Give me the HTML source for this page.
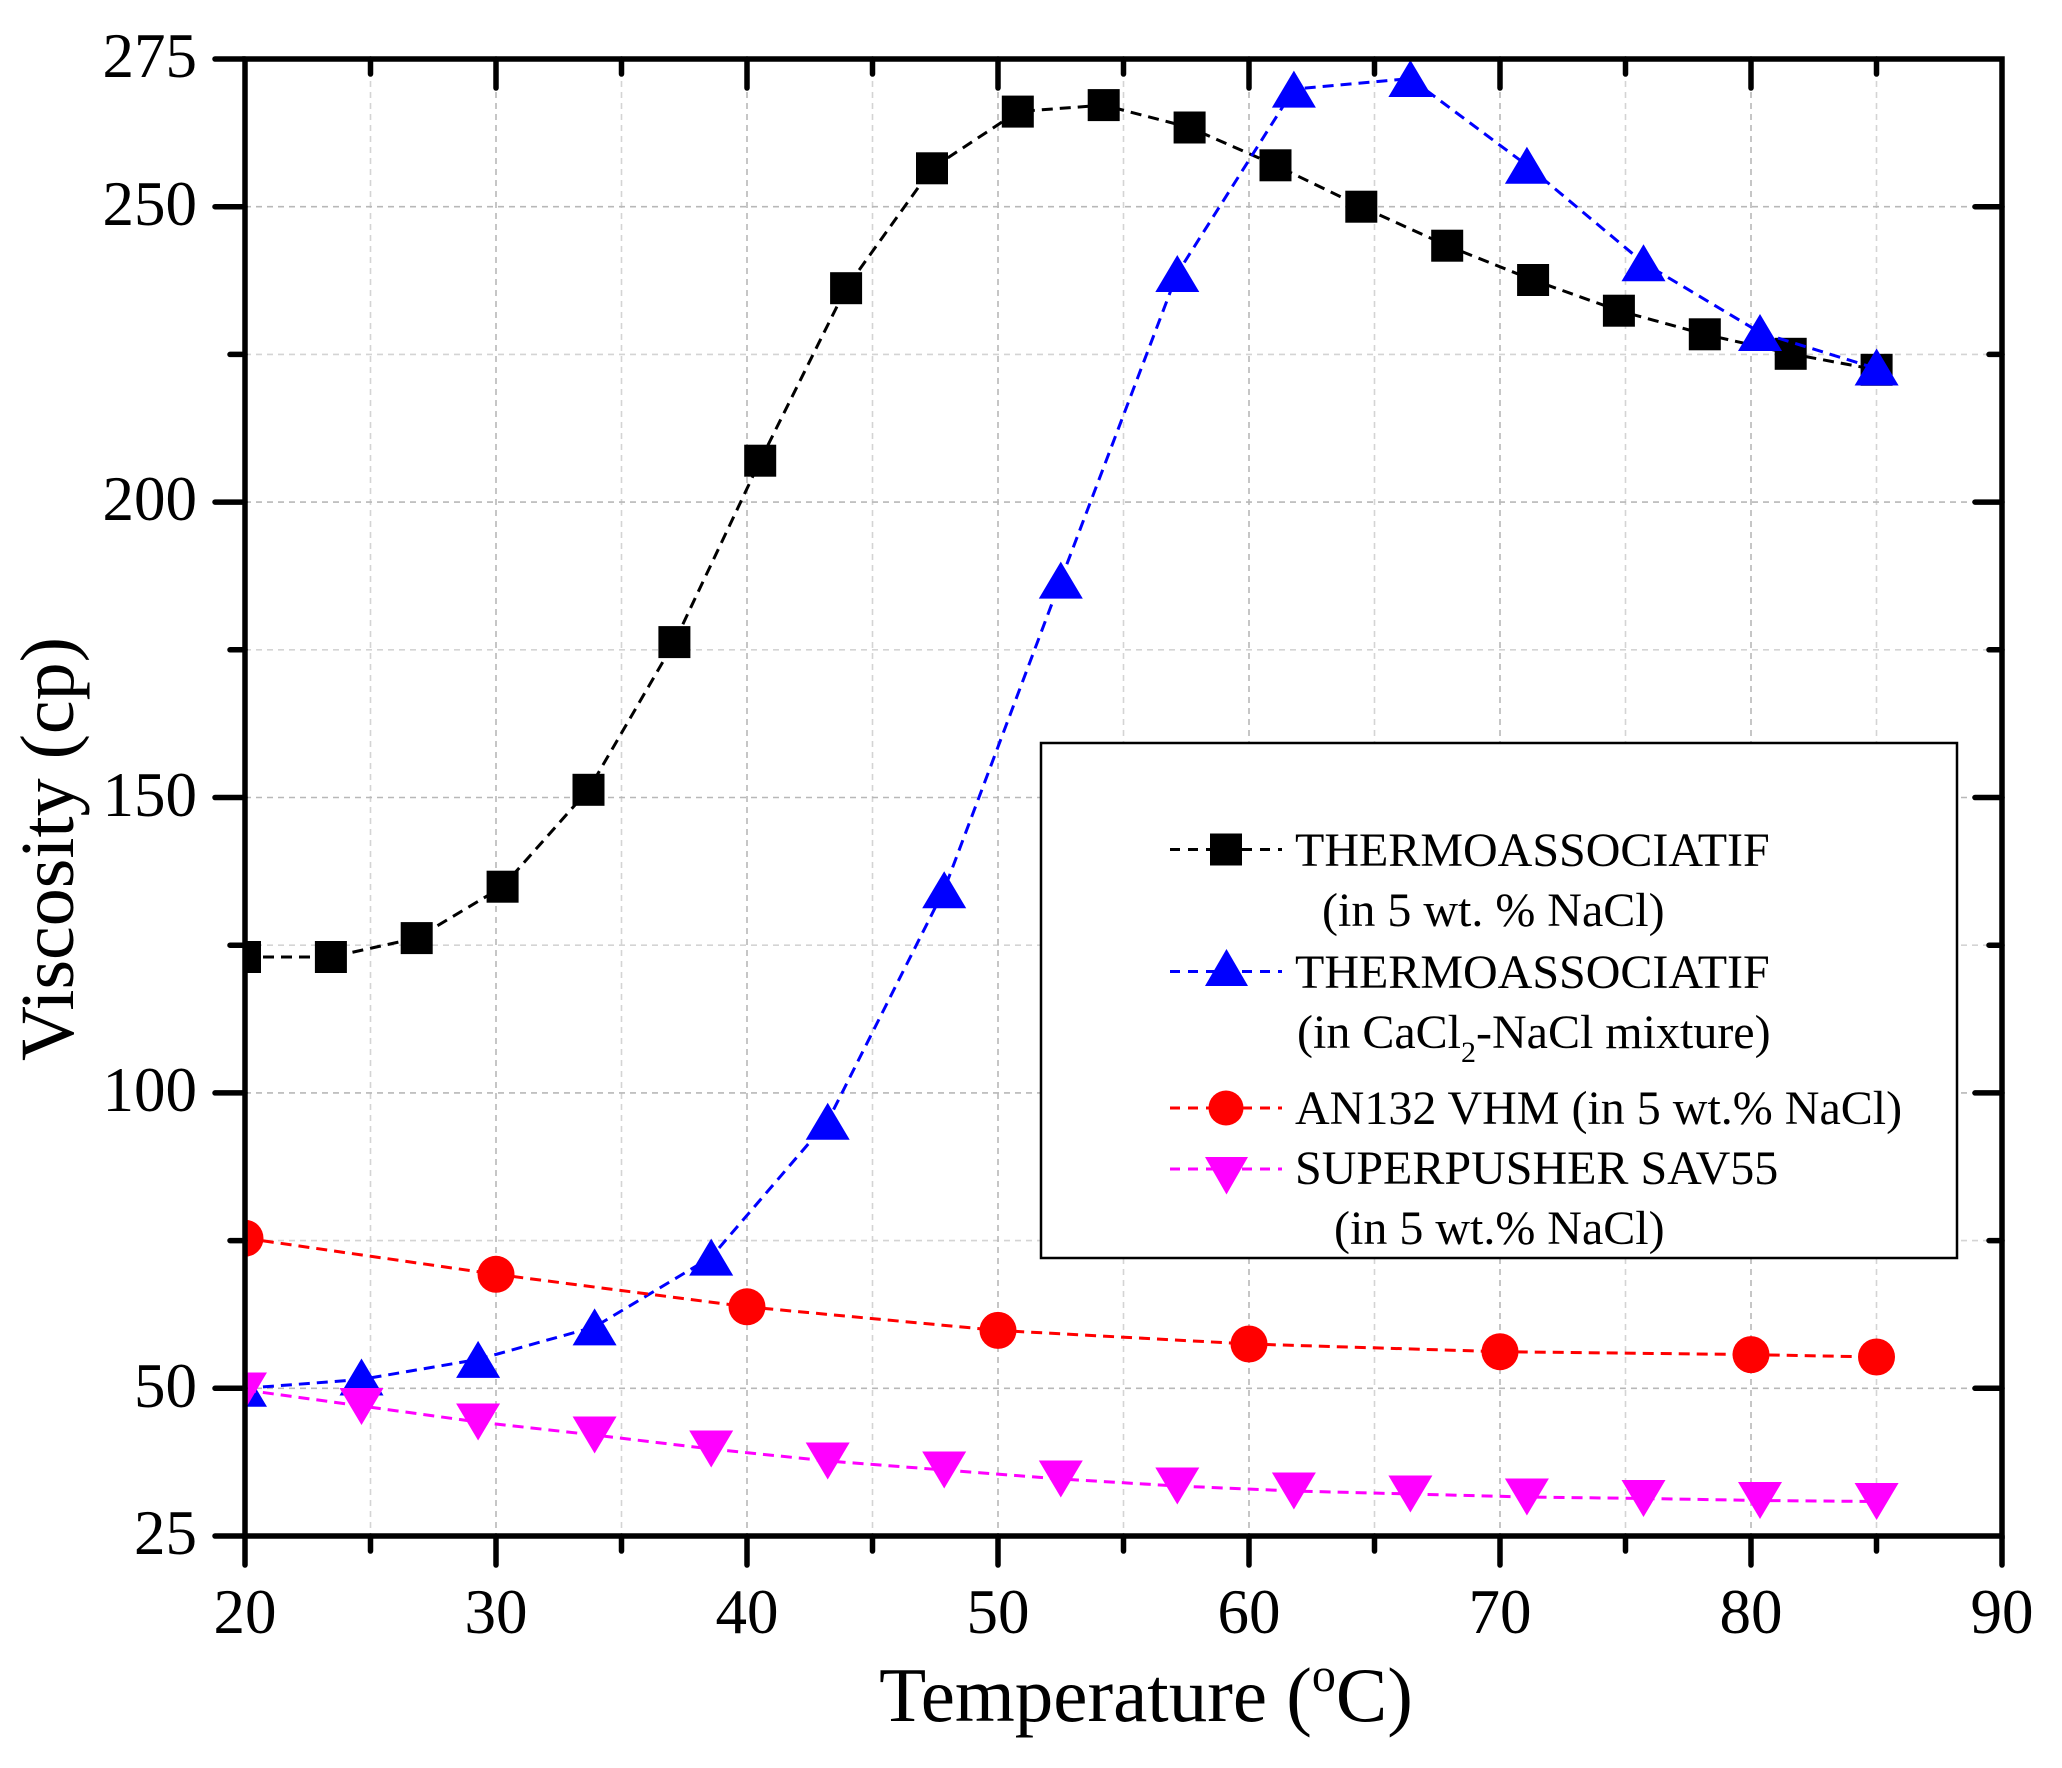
<!DOCTYPE html>
<html><head><meta charset="utf-8"><style>
html,body{margin:0;padding:0;background:#fff;}
svg{display:block;}
text{font-family:"Liberation Serif","Times New Roman",serif;fill:#000;}
</style></head><body>
<svg width="2062" height="1768" viewBox="0 0 2062 1768" xmlns="http://www.w3.org/2000/svg">
<rect width="2062" height="1768" fill="#fff"/>
<defs><clipPath id="pa"><rect x="245" y="59" width="1757" height="1477"/></clipPath></defs>
<!-- minor grid -->
<g stroke="#d4d4d4" stroke-width="1.6" stroke-dasharray="6,5" fill="none">
<path d="M370.5,59V1536M621.5,59V1536M872.5,59V1536M1123.5,59V1536M1374.5,59V1536M1625.5,59V1536M1876.5,59V1536"/>
<path d="M245,1240.6H2002M245,945.2H2002M245,649.8H2002M245,354.4H2002"/>
</g>
<!-- major grid -->
<g stroke="#b8b8b8" stroke-width="1.6" stroke-dasharray="6,5" fill="none">
<path d="M496,59V1536M747,59V1536M998,59V1536M1249,59V1536M1500,59V1536M1751,59V1536"/>
<path d="M245,1388.3H2002M245,1092.9H2002M245,797.5H2002M245,502.1H2002M245,206.7H2002"/>
</g>
<g clip-path="url(#pa)">
<!-- black -->
<polyline fill="none" stroke="#000" stroke-width="3" stroke-dasharray="11,7" points="245,957 330.9,957 416.7,938.1 502.6,886.7 588.5,789.8 674.4,642.1 760.2,460.7 846.1,288.2 932,168.3 1017.8,111.6 1103.7,105.1 1189.6,127.5 1275.5,165.3 1361.3,206.7 1447.2,245.7 1533.1,280 1618.9,310.7 1704.8,334.3 1790.7,353.8 1876.6,369.8"/>
<g fill="#000">
<rect x="229" y="941" width="32" height="32"/><rect x="314.9" y="941" width="32" height="32"/><rect x="400.7" y="922.1" width="32" height="32"/><rect x="486.6" y="870.7" width="32" height="32"/><rect x="572.5" y="773.8" width="32" height="32"/><rect x="658.4" y="626.1" width="32" height="32"/><rect x="744.2" y="444.7" width="32" height="32"/><rect x="830.1" y="272.2" width="32" height="32"/><rect x="916" y="152.3" width="32" height="32"/><rect x="1001.8" y="95.6" width="32" height="32"/><rect x="1087.7" y="89.1" width="32" height="32"/><rect x="1173.6" y="111.5" width="32" height="32"/><rect x="1259.5" y="149.3" width="32" height="32"/><rect x="1345.3" y="190.7" width="32" height="32"/><rect x="1431.2" y="229.7" width="32" height="32"/><rect x="1517.1" y="264" width="32" height="32"/><rect x="1602.9" y="294.7" width="32" height="32"/><rect x="1688.8" y="318.3" width="32" height="32"/><rect x="1774.7" y="337.8" width="32" height="32"/><rect x="1860.6" y="353.8" width="32" height="32"/>
</g>
<!-- blue -->
<polyline fill="none" stroke="#0000ff" stroke-width="3" stroke-dasharray="11,7" points="245,1388.3 361.5,1379.4 478.1,1359.4 594.6,1326.9 711.2,1257.1 827.7,1121.3 944.2,889.7 1060.8,580.1 1177.3,273.5 1293.9,89.1 1410.4,78.5 1526.9,165.3 1643.5,262.8 1760,332.5 1876.6,368.6"/>
<g fill="#0000ff">
<path transform="translate(245,1388.3)" d="M0,-18.5L22,18.5L-22,18.5Z"/>
<path transform="translate(361.5,1377)" d="M0,-18.5L22,18.5L-22,18.5Z"/>
<path transform="translate(478.1,1359.4)" d="M0,-18.5L22,18.5L-22,18.5Z"/>
<path transform="translate(594.6,1326.9)" d="M0,-18.5L22,18.5L-22,18.5Z"/>
<path transform="translate(711.2,1257.1)" d="M0,-18.5L22,18.5L-22,18.5Z"/>
<path transform="translate(827.7,1121.3)" d="M0,-18.5L22,18.5L-22,18.5Z"/>
<path transform="translate(944.2,889.7)" d="M0,-18.5L22,18.5L-22,18.5Z"/>
<path transform="translate(1060.8,580.1)" d="M0,-18.5L22,18.5L-22,18.5Z"/>
<path transform="translate(1177.3,273.5)" d="M0,-18.5L22,18.5L-22,18.5Z"/>
<path transform="translate(1293.9,89.1)" d="M0,-18.5L22,18.5L-22,18.5Z"/>
<path transform="translate(1410.4,78.5)" d="M0,-18.5L22,18.5L-22,18.5Z"/>
<path transform="translate(1526.9,165.3)" d="M0,-18.5L22,18.5L-22,18.5Z"/>
<path transform="translate(1643.5,262.8)" d="M0,-18.5L22,18.5L-22,18.5Z"/>
<path transform="translate(1760,332.5)" d="M0,-18.5L22,18.5L-22,18.5Z"/>
<path transform="translate(1876.6,367)" d="M0,-18.5L22,18.5L-22,18.5Z"/>
</g>
<!-- red -->
<polyline fill="none" stroke="#ff0000" stroke-width="3" stroke-dasharray="11,7" points="245,1238.2 496,1274.3 747,1306.8 998,1330.4 1249,1344 1500,1351.7 1751,1354.6 1876.5,1357"/>
<g fill="#ff0000">
<circle cx="245" cy="1238.2" r="18.5"/><circle cx="496" cy="1274.3" r="18.5"/><circle cx="747" cy="1306.8" r="18.5"/><circle cx="998" cy="1330.4" r="18.5"/><circle cx="1249" cy="1344" r="18.5"/><circle cx="1500" cy="1351.7" r="18.5"/><circle cx="1751" cy="1354.6" r="18.5"/><circle cx="1876.5" cy="1357" r="18.5"/>
</g>
<!-- magenta -->
<polyline fill="none" stroke="#ff00ff" stroke-width="3" stroke-dasharray="11,7" points="245,1390 361.5,1406 478.1,1422 594.6,1435 711.2,1449 827.7,1461 944.2,1470 1060.8,1479 1177.3,1486 1293.9,1491 1410.4,1494 1526.9,1497 1643.5,1498.5 1760,1500.5 1876.6,1501.5"/>
<g fill="#ff00ff">
<path transform="translate(245,1391)" d="M0,18.5L22,-18.5L-22,-18.5Z"/>
<path transform="translate(361.5,1406.5)" d="M0,18.5L22,-18.5L-22,-18.5Z"/>
<path transform="translate(478.1,1422)" d="M0,18.5L22,-18.5L-22,-18.5Z"/>
<path transform="translate(594.6,1435)" d="M0,18.5L22,-18.5L-22,-18.5Z"/>
<path transform="translate(711.2,1449)" d="M0,18.5L22,-18.5L-22,-18.5Z"/>
<path transform="translate(827.7,1461)" d="M0,18.5L22,-18.5L-22,-18.5Z"/>
<path transform="translate(944.2,1470)" d="M0,18.5L22,-18.5L-22,-18.5Z"/>
<path transform="translate(1060.8,1479)" d="M0,18.5L22,-18.5L-22,-18.5Z"/>
<path transform="translate(1177.3,1486)" d="M0,18.5L22,-18.5L-22,-18.5Z"/>
<path transform="translate(1293.9,1491)" d="M0,18.5L22,-18.5L-22,-18.5Z"/>
<path transform="translate(1410.4,1494)" d="M0,18.5L22,-18.5L-22,-18.5Z"/>
<path transform="translate(1526.9,1497)" d="M0,18.5L22,-18.5L-22,-18.5Z"/>
<path transform="translate(1643.5,1498.5)" d="M0,18.5L22,-18.5L-22,-18.5Z"/>
<path transform="translate(1760,1500.5)" d="M0,18.5L22,-18.5L-22,-18.5Z"/>
<path transform="translate(1876.6,1501.5)" d="M0,18.5L22,-18.5L-22,-18.5Z"/>
</g>
</g>
<!-- legend -->
<rect x="1041" y="743" width="916" height="515" fill="#fff" stroke="#000" stroke-width="2.5"/>
<g fill="none" stroke-width="3" stroke-dasharray="10,8">
<path d="M1170,849.5H1282" stroke="#000"/>
<path d="M1170,971.5H1282" stroke="#0000ff"/>
<path d="M1170,1108H1282" stroke="#ff0000"/>
<path d="M1170,1169H1282" stroke="#ff00ff"/>
</g>
<rect x="1210" y="833.5" width="32" height="32" fill="#000"/>
<path d="M1226.5,949L1248,986L1205,986Z" fill="#0000ff"/>
<circle cx="1226" cy="1108" r="17.5" fill="#ff0000"/>
<path d="M1205,1157L1248,1157L1226.5,1194.5Z" fill="#ff00ff"/>
<g font-size="48">
<text x="1295" y="866">THERMOASSOCIATIF</text>
<text x="1322" y="926">(in 5 wt. % NaCl)</text>
<text x="1295" y="988">THERMOASSOCIATIF</text>
<text x="1297" y="1048">(in CaCl<tspan font-size="30" dy="14">2</tspan><tspan dy="-14">-NaCl mixture)</tspan></text>
<text x="1295" y="1124">AN132 VHM (in 5 wt.% NaCl)</text>
<text x="1295" y="1184">SUPERPUSHER SAV55</text>
<text x="1334" y="1244">(in 5 wt.% NaCl)</text>
</g>
<!-- axes frame -->
<rect x="245" y="59" width="1757" height="1477" fill="none" stroke="#000" stroke-width="5.5"/>
<!-- ticks -->
<g stroke="#000" stroke-width="5.5" stroke-linecap="round" fill="none">
<path d="M245,1536V1565M496,1536V1565M747,1536V1565M998,1536V1565M1249,1536V1565M1500,1536V1565M1751,1536V1565M2002,1536V1565"/>
<path d="M370.5,1536V1551M621.5,1536V1551M872.5,1536V1551M1123.5,1536V1551M1374.5,1536V1551M1625.5,1536V1551M1876.5,1536V1551"/>
<path d="M496,59V88M747,59V88M998,59V88M1249,59V88M1500,59V88M1751,59V88"/>
<path d="M370.5,59V74M621.5,59V74M872.5,59V74M1123.5,59V74M1374.5,59V74M1625.5,59V74M1876.5,59V74"/>
<path d="M245,59H215M245,206.7H215M245,502.1H215M245,797.5H215M245,1092.9H215M245,1388.3H215M245,1536H215"/>
<path d="M245,354.4H230M245,649.8H230M245,945.2H230M245,1240.6H230"/>
<path d="M2002,206.7H1975M2002,502.1H1975M2002,797.5H1975M2002,1092.9H1975M2002,1388.3H1975"/>
<path d="M2002,354.4H1989M2002,649.8H1989M2002,945.2H1989M2002,1240.6H1989"/>
</g>
<!-- tick labels -->
<g font-size="63" text-anchor="end">
<text x="197" y="77">275</text>
<text x="197" y="225">250</text>
<text x="197" y="520">200</text>
<text x="197" y="816">150</text>
<text x="197" y="1111">100</text>
<text x="197" y="1407">50</text>
<text x="197" y="1554">25</text>
</g>
<g font-size="63" text-anchor="middle">
<text x="245" y="1633">20</text>
<text x="496" y="1633">30</text>
<text x="747" y="1633">40</text>
<text x="998" y="1633">50</text>
<text x="1249" y="1633">60</text>
<text x="1500" y="1633">70</text>
<text x="1751" y="1633">80</text>
<text x="2002" y="1633">90</text>
</g>
<!-- axis titles -->
<text transform="translate(73,849) rotate(-90)" font-size="76" text-anchor="middle">Viscosity (cp)</text>
<text x="1146" y="1721" font-size="77" text-anchor="middle">Temperature (<tspan font-size="48" dy="-30">o</tspan><tspan dy="30">C)</tspan></text>
</svg>
</body></html>
